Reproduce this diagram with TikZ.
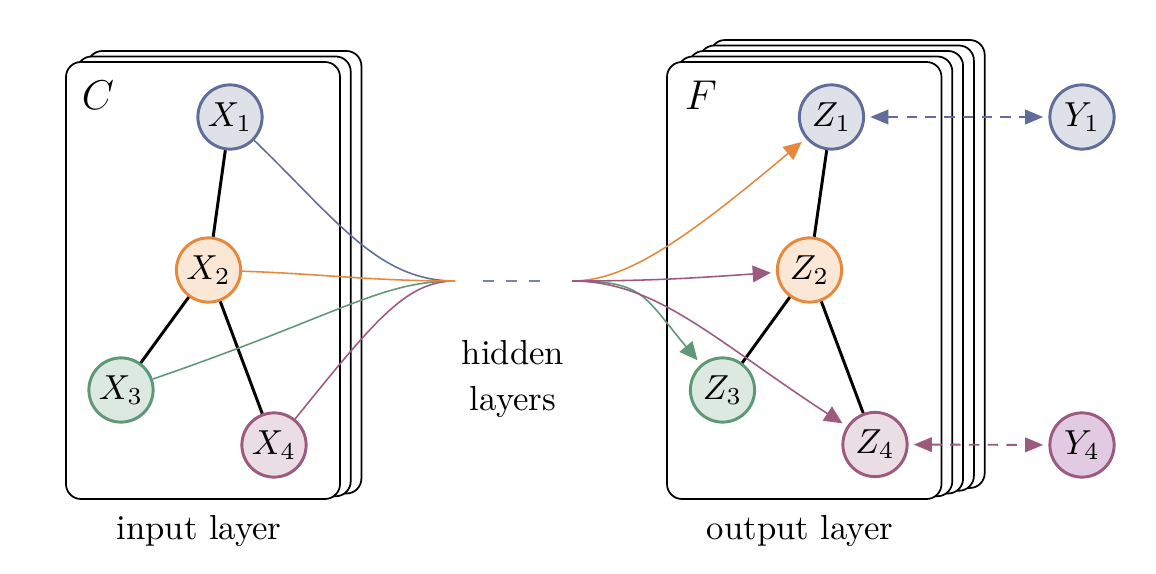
\documentclass[tikz,border=0pt]{standalone}
\usetikzlibrary{arrows.meta}
\definecolor{cb}{HTML}{626C9A}
\definecolor{cbf}{HTML}{DEE1E8}
\definecolor{co}{HTML}{E8883C}
\definecolor{cof}{HTML}{FBE7D6}
\definecolor{cg}{HTML}{5E9878}
\definecolor{cgf}{HTML}{DCE9E1}
\definecolor{cp}{HTML}{9C5A7E}
\definecolor{cpf}{HTML}{EADDE4}
\definecolor{cyf}{HTML}{E2CAE2}
\tikzset{
  card/.style={draw=black, fill=white, rounded corners=4.3pt, line width=0.5pt},
  var/.style={circle, minimum size=18.5pt, inner sep=0pt, line width=0.85pt},
  vb/.style={var, draw=cb, fill=cbf},
  vo/.style={var, draw=co, fill=cof},
  vg/.style={var, draw=cg, fill=cgf},
  vp/.style={var, draw=cp, fill=cpf},
  edge/.style={line width=0.85pt, black},
  flow/.style={line width=0.45pt},
  tip/.style={-{Triangle[length=5.2pt,width=4.8pt]}, shorten >=1.5pt},
  link/.style={line width=0.55pt, dash pattern=on 3pt off 2.4pt,
    {Triangle[length=5.2pt,width=4.2pt]}-{Triangle[length=5.2pt,width=4.2pt]},
    shorten >=1.5pt, shorten <=1.5pt},
}
\begin{document}
\begin{tikzpicture}[x=0.288pt, y=-0.288pt]
\useasboundingbox (0,0) rectangle (1156,574);
% input stack
\foreach \k in {2,1} {
  \draw[card] (66+10.7*\k, 62-5.5*\k) rectangle (340+10.7*\k, 499-2.75*\k);
}
\draw[card] (66,62) rectangle (340,499);
% output stack
\foreach \k in {4,3,2,1} {
  \draw[card] (667+10.8*\k, 62-5.5*\k) rectangle (941.5+10.8*\k, 499-2.75*\k);
}
\draw[card] (667,62) rectangle (941.5,499);

\node[font=\large] (C) at (98,95) {$C$};
\node[font=\large] (F) at (701,95) {$F$};

% nodes
\node[vb] (X1) at (230,117) {$X_1$};
\node[vo] (X2) at (208.5,270) {$X_2$};
\node[vg] (X3) at (121,390) {$X_3$};
\node[vp] (X4) at (274,445) {$X_4$};

\node[vb] (Z1) at (831.5,117) {$Z_1$};
\node[vo] (Z2) at (809.5,270) {$Z_2$};
\node[vg] (Z3) at (722.5,390) {$Z_3$};
\node[vp] (Z4) at (875,444.5) {$Z_4$};

\node[vb] (Y1) at (1082,117) {$Y_1$};
\node[var, draw=cp, fill=cyf] (Y4) at (1082,445) {$Y_4$};

\coordinate (h1) at (455,281);
\coordinate (h2) at (572,281);

% black edges
\draw[edge] (X1) -- (X2);
\draw[edge] (X2) -- (X3);
\draw[edge] (X2) -- (X4);
\draw[edge] (Z1) -- (Z2);
\draw[edge] (Z2) -- (Z3);
\draw[edge] (Z2) -- (Z4);

% into hidden layers
\draw[flow, cb] (X1) to[out=-44, in=180, out looseness=1.2, in looseness=0.8] (h1);
\draw[flow, cg] (X3) to[out=19, in=180, out looseness=1.6, in looseness=0.6] (h1);
\draw[flow, cp] (X4) to[out=51, in=180, out looseness=1.5, in looseness=0.6] (h1);
\draw[flow, co] (X2) to[out=-2, in=180] (h1);

\draw[cb!85, line width=0.55pt,
  dash pattern=on 0pt off 8.06pt on 3.2pt off 3.4pt on 3.2pt off 3.4pt on 3.2pt off 12pt]
  (h1) -- (h2);

% out of hidden layers
\draw[flow, co, tip] (h2) to[out=0, in=-140, out looseness=0.5, in looseness=1.5] (Z1);
\draw[flow, cg, tip] (h2) to[out=0, in=130, out looseness=1.2, in looseness=1.5] (Z3);
\draw[flow, cp, tip] (h2) to[out=0, in=147, out looseness=0.7, in looseness=1.3] (Z4);
\draw[flow, cp, tip] (h2) to[out=0, in=184] (Z2);

% observations
\draw[link, cb] (Z1) -- (Y1);
\draw[link, cp] (Z4) -- (Y4);

% labels
\node[align=center] (hl) at (513,379) {hidden\\[1.5pt]layers};
\node (il) at (199,531) {input layer};
\node (ol) at (800,531) {output layer};
\end{tikzpicture}
\end{document}
